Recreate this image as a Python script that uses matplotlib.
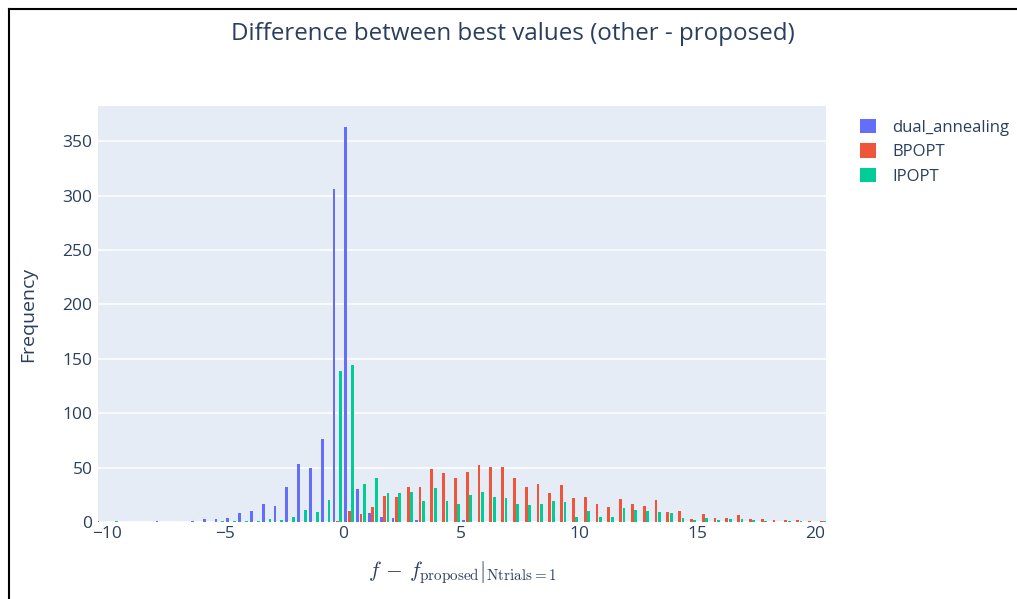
import numpy as np
import matplotlib
matplotlib.use("Agg")
import matplotlib.pyplot as plt
from matplotlib.lines import Line2D
from matplotlib.patches import Patch

plt.rcParams['font.family'] = ['Open Sans', 'DejaVu Sans']
plt.rcParams['mathtext.fontset'] = 'cm'

# histogram bins: width 0.5 starting at -10.5
bin_start = -10.5
bin_width = 0.5

series_names = ['dual_annealing', 'BPOPT', 'IPOPT']
colors = ['#636EFA', '#EF553B', '#00CC96']

dual_annealing = [1, 0, 0, 0, 0,
                  1, 0, 0, 1, 3,
                  3, 4, 8, 10, 17,
                  15, 32, 53, 50, 76,
                  306, 363, 30, 8, 5,
                  4, 0, 2, 0, 0,
                  0, 2, 0, 0, 0,
                  0, 0, 0, 0, 0, 0, 0, 0, 0, 0, 0, 0, 0, 0, 0, 0, 0, 0, 0,
                  0, 0, 0, 0, 0, 0, 0, 0]
bpopt = [0, 0, 0, 0, 0, 0, 0, 0, 0, 0, 0, 0, 0, 0, 0, 0, 0, 0, 0, 0,
         1, 10, 7, 14, 24,
         23, 32, 32, 49, 45,
         40, 46, 52, 51, 51,
         40, 32, 35, 27, 34,
         22, 23, 17, 14, 21,
         17, 15, 20, 9, 10,
         3, 7, 4, 4, 6,
         3, 3, 2, 2, 2,
         1, 1]
ipopt = [0, 1, 0, 0, 0,
         0, 0, 0, 0, 0,
         1, 1, 1, 1, 3,
         2, 5, 11, 9, 20,
         139, 144, 35, 40, 27,
         27, 28, 19, 31, 19,
         17, 25, 28, 23, 22,
         17, 16, 17, 19, 18,
         5, 10, 5, 5, 13,
         11, 10, 9, 8, 4,
         2, 4, 2, 3, 3,
         2, 1, 0, 1, 1,
         0, 1]

data = [dual_annealing, bpopt, ipopt]
n_bins = len(dual_annealing)
centers = bin_start + bin_width * (np.arange(n_bins) + 0.5)

fig = plt.figure(figsize=(10.17, 5.99), dpi=100)
ax = fig.add_axes([98 / 1017, 1 - 522 / 599, (826 - 98) / 1017, (522 - 106) / 599])
ax.set_facecolor('#E5ECF6')

offset = 0.143
width = 0.118
for i, (vals, c, name) in enumerate(zip(data, colors, series_names)):
    ax.bar(centers + (i - 1) * offset, vals, width=width, color=c,
           edgecolor='none', label=name, zorder=3)

ax.set_xlim(-10.39, 20.45)
ax.set_ylim(0, 382.5)
ax.set_yticks(np.arange(0, 351, 50))
ax.set_xticks(np.arange(-10, 21, 5))
ax.set_xticklabels(['\u221210', '\u22125', '0', '5', '10', '15', '20'])
ax.grid(axis='y', color='white', linewidth=1.1, zorder=0)
ax.set_axisbelow(True)
for s in ax.spines.values():
    s.set_visible(False)
ax.tick_params(length=0, labelsize=12.5, colors='#2a3f5f', pad=4)
ax.tick_params(axis='x', pad=3)

ax.set_ylabel('Frequency', fontsize=14, color='#2a3f5f', labelpad=18)
ax.set_xlabel(r'$f\,-\,f_{\mathrm{proposed}}|_{\mathrm{Ntrials}=1}$',
              fontsize=15.5, color='#2a3f5f', labelpad=12)

fig.text(513 / 1017, 1 - 34 / 599, 'Difference between best values (other - proposed)',
         ha='center', va='center', fontsize=17.4, color='#2a3f5f')

handles = [Patch(facecolor=c, edgecolor='none') for c in colors]
fig.legend(handles, series_names, loc='upper left',
           bbox_to_anchor=(845 / 1017, 1 - 104 / 599), frameon=False,
           fontsize=12, labelcolor='#2a3f5f', handlelength=0.95, handleheight=0.95,
           handletextpad=1.0, labelspacing=0.45)

# screenshot frame
fig.add_artist(Line2D([9 / 1017, 1], [1 - 9 / 599, 1 - 9 / 599], color='black', lw=1.5,
                      transform=fig.transFigure))
fig.add_artist(Line2D([9 / 1017, 9 / 1017], [0, 1 - 9 / 599], color='black', lw=1.5,
                      transform=fig.transFigure))

fig.savefig('out.png', dpi=100)
